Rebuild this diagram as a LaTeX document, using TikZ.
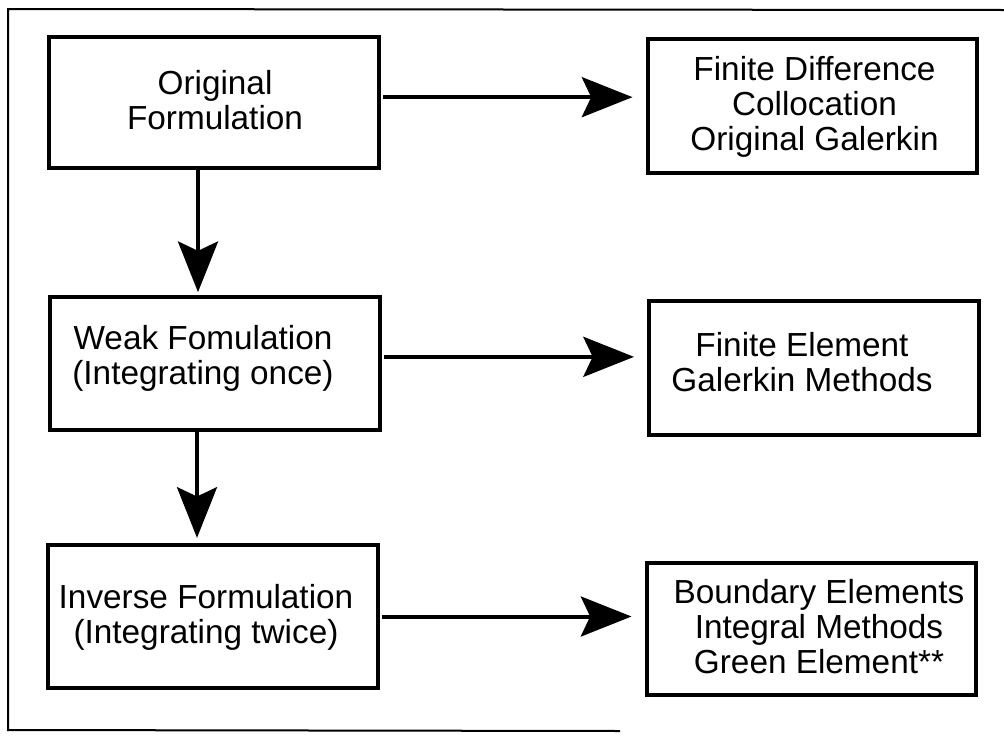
\documentclass[tikz,border=0pt]{standalone}
\usepackage{fontspec}
\setmainfont{Liberation Sans}
\usetikzlibrary{arrows.meta}

\begin{document}
\begin{tikzpicture}[x=0.75pt,y=-0.75pt,
    boite/.style={draw,line width=3pt,inner sep=0pt,minimum width=247pt},
    texte/.style={align=center,font=\fontsize{25}{26.25}\selectfont},
    fleche/.style={line width=3pt,-{Stealth[length=38pt,width=30pt,inset=7pt]}}]

    \useasboundingbox (0,0) rectangle (1004,736);

    % Cadre
    \draw[line width=1.5pt] (1004,10) -- (8,9) -- (8,730) -- (620,731);

    % Formulations (colonne de gauche)
    \node[boite,minimum height=98pt]  (orig) at (214,102.5) {};
    \node[boite,minimum height=100pt] (weak) at (215,363.5) {};
    \node[boite,minimum height=107pt] (inv)  at (213,616.5) {};
    \node[texte] at (215,100) {Original\\Formulation};
    \node[texte] at (203,358) {Weak Fomulation\\(Integrating once)};
    \node[texte] at (206,617) {Inverse Formulation\\(Integrating twice)};

    % Méthodes (colonne de droite)
    \node[boite,minimum height=100pt] (fd)  at (812.5,106) {};
    \node[boite,minimum height=100pt] (fe)  at (814,368) {};
    \node[boite,minimum height=99pt]  (bem) at (811.5,629) {};
    \node[texte] at (814.5,107) {Finite Difference\\Collocation\\Original Galerkin};
    \node[texte] at (802,362) {Finite Element\\Galerkin Methods};
    \node[texte] at (819,627) {Boundary Elements\\Integral Methods\\Green Element**};

    % ---- Flèches ----
    \foreach \a/\b/\dy in {orig/fd/4pt, weak/fe/5pt, inv/bem/0pt}{
      \coordinate (h-\a) at ([yshift=\dy]\a.east);
      \draw[fleche,shorten <=2pt,shorten >=10pt] (h-\a) -- (h-\a -| \b.west);
    }

    \coordinate (v-orig) at ([xshift=-12pt]orig.south);
    \draw[fleche,shorten >=2pt] (v-orig) -- (v-orig |- weak.north);

    \coordinate (v-weak) at ([xshift=-13.5pt]weak.south);
    \draw[fleche,shorten >=4pt] (v-weak) -- (v-weak |- inv.north);

  \end{tikzpicture}
\end{document}
